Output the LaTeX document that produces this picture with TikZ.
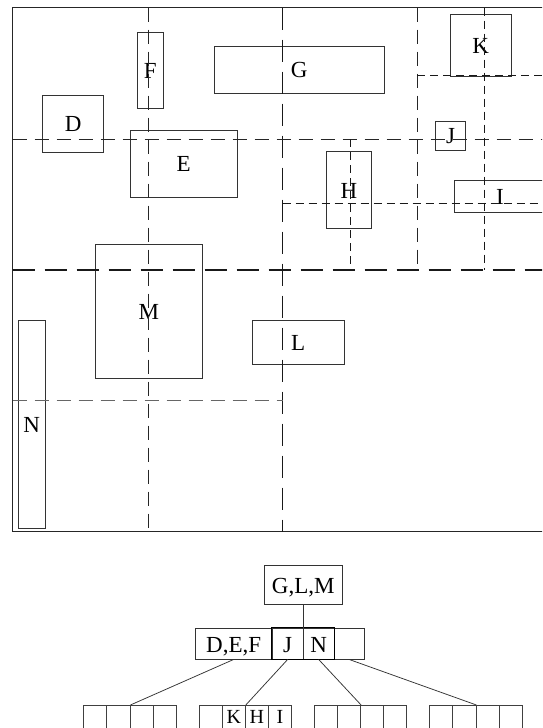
\documentclass[tikz,border=0pt]{standalone}
\usepackage{fontspec}
\setmainfont{Liberation Serif}
\begin{document}
\begin{tikzpicture}[x=1pt,y=-1pt,
  box/.style={draw=black!80, line width=0.9pt, inner sep=0pt, text height=16pt, text depth=0pt, font=\fontsize{23}{23}\selectfont},
  tbox/.style={draw=black!80, line width=0.9pt, inner sep=0pt, text height=17pt, text depth=0pt, minimum height=31pt, font=\fontsize{23}{23}\selectfont},
  cell/.style={draw=black!75, line width=0.9pt, inner sep=0pt, minimum width=23.1pt, minimum height=40pt, text height=18pt, text depth=22pt, anchor=north west, font=\fontsize{20}{20}\selectfont},
  longdash/.style={draw=black!90, line width=1.3pt, dash pattern=on 22pt off 10pt},
  meddash/.style={draw=black!85, line width=0.95pt, dash pattern=on 14pt off 8pt},
  shortdash/.style={draw=black!90, line width=0.85pt, dash pattern=on 8pt off 5pt},
  link/.style={draw=black!80, line width=0.75pt}
]
\useasboundingbox (0,0) rectangle (542,728);
\clip (0,0) rectangle (542,728);

% outer frame
\draw[line width=1.3pt, draw=black!85] (12.7,7.7) rectangle (546,531.7);

% rectangles
\node[box, minimum width=61pt, minimum height=57pt] (D) at (73.2,123.5) {D};
\node[box, minimum width=26.3pt, minimum height=75.3pt] (F) at (150.2,70.3) {F};
\node[box, minimum width=170pt, minimum height=46.7pt] (G) at (299.3,69.7) {G};
\node[box, minimum width=106.7pt, minimum height=66.7pt] (E) at (183.7,163.7) {E};
\node[box, minimum width=61.3pt, minimum height=62pt] (K) at (480.7,45.3) {K};
\node[box, minimum width=30.4pt, minimum height=29pt] (J) at (450.5,135.8) {J};
\node[box, minimum width=44.6pt, minimum height=76.6pt] (H) at (349,190) {H};
\node[box, minimum width=92pt, minimum height=32pt] (I) at (500,196) {I};
\node[box, minimum width=106.3pt, minimum height=134pt] (M) at (148.8,311) {M};
\node[box, minimum width=92.3pt, minimum height=44pt] (L) at (298.2,342.3) {L};
\node[box, minimum width=26.3pt, minimum height=208pt] (N) at (31.8,424) {N};

% splitting lines
\draw[longdash] (12.7,270) -- (546,270);
\draw[longdash] (282.5,7.7) -- (282.5,531.7);
\draw[meddash] (148,7.7) -- (148,531.7);
\draw[meddash] (12.7,139) -- (546,139);
\draw[meddash] (417,7.7) -- (417,270);
\draw[meddash, draw=black!60] (12.7,400.7) -- (282.5,400.7);
\draw[shortdash] (417,75) -- (546,75);
\draw[shortdash] (484,7.7) -- (484,270);
\draw[shortdash] (282.5,203.5) -- (546,203.5);
\draw[shortdash] (350,139) -- (350,270);

% tree
\node[tbox, minimum width=78.6pt, minimum height=39.3pt] (root) at (303.3,584.7) {G,L,M};
\node[tbox, minimum width=76.7pt] (mDEF) at (233.65,643.5) {D,E,F};
\node[tbox, minimum width=31.3pt] (mJ) at (287.65,643.5) {J};
\node[tbox, minimum width=30.7pt] (mN) at (318.65,643.5) {N};
\node[tbox, minimum width=30.3pt] (mE) at (349.15,643.5) {};
\draw[line width=1.7pt] (mJ.north west) rectangle (mN.south east);

\foreach \g/\x in {1/83.3,2/198.7,3/314,4/429.3} {
  \foreach \c in {1,...,4} {
    \node[cell] (g\g c\c) at ({\x+(\c-1)*23.1},705) {};
  }
}
\node[cell, draw=none] at (g2c2.north west) {K};
\node[cell, draw=none] at (g2c3.north west) {H};
\node[cell, draw=none] at (g2c4.north west) {I};

\draw[link] (root.south) -- (root.south |- mN.north);
\draw[link] (mDEF.south) -- (g1c2.north east);
\draw[link] (mJ.south) -- (g2c2.north east);
\draw[link] (mN.south) -- (g3c2.north east);
\draw[link] (mE.south) -- (g4c2.north east);
\end{tikzpicture}
\end{document}
